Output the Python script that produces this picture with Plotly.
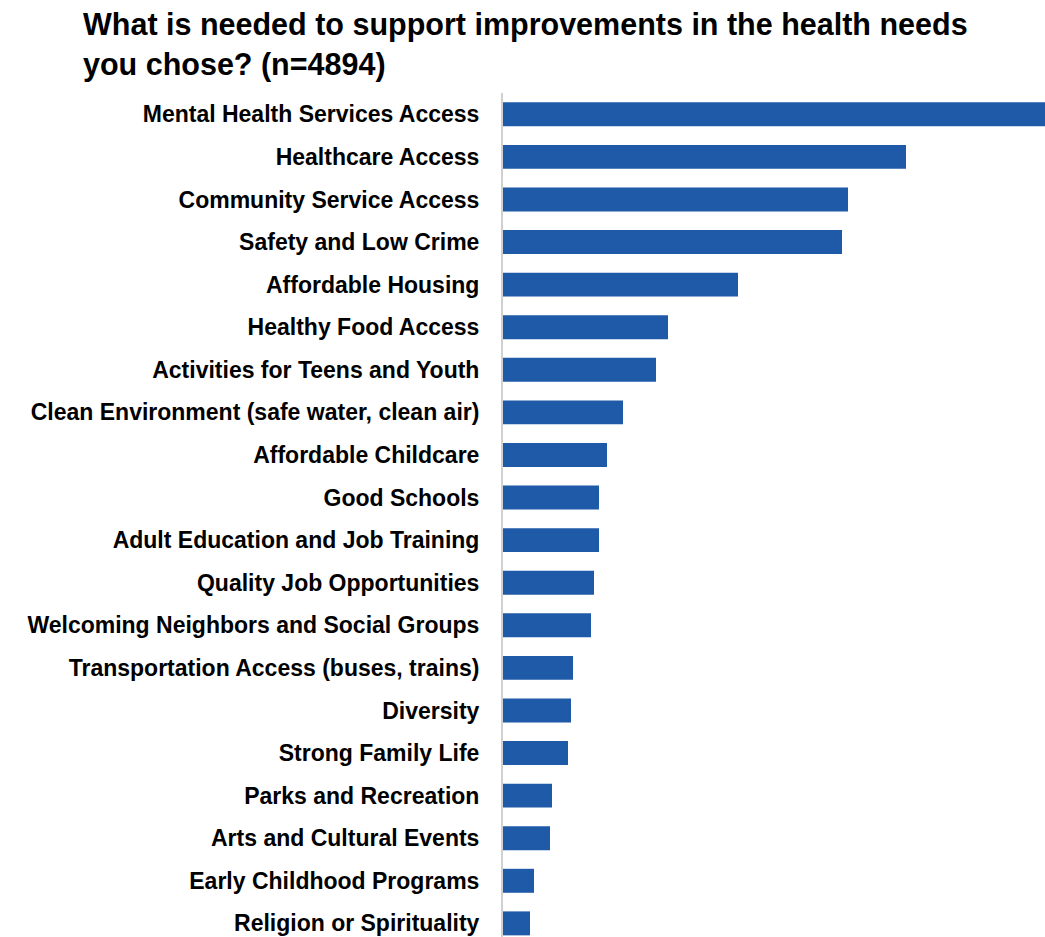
import plotly.graph_objects as go

categories = [
    "Mental Health Services Access",
    "Healthcare Access",
    "Community Service Access",
    "Safety and Low Crime",
    "Affordable Housing",
    "Healthy Food Access",
    "Activities for Teens and Youth",
    "Clean Environment (safe water, clean air)",
    "Affordable Childcare",
    "Good Schools",
    "Adult Education and Job Training",
    "Quality Job Opportunities",
    "Welcoming Neighbors and Social Groups",
    "Transportation Access (buses, trains)",
    "Diversity",
    "Strong Family Life",
    "Parks and Recreation",
    "Arts and Cultural Events",
    "Early Childhood Programs",
    "Religion or Spirituality",
]
values = [545, 403, 345, 339, 235, 165, 153, 120, 104, 96, 96, 91, 88, 70, 68, 65, 49, 47, 31, 27]

title_text = "What is needed to support improvements in the health needs<br>you chose? (n=4894)"

W, H = 1045, 937
fig = go.Figure(
    go.Bar(
        x=values,
        y=categories,
        orientation="h",
        marker=dict(color="#1F5AA8", line=dict(width=0)),
        hoverinfo="x+y",
    )
)

fig.update_layout(
    width=W,
    height=H,
    paper_bgcolor="white",
    plot_bgcolor="white",
    margin=dict(l=503, r=0, t=93, b=0),
    bargap=0.437,
    showlegend=False,
    title=dict(
        text=title_text,
        x=83 / W,
        xref="container",
        xanchor="left",
        y=1 - 35 / H,
        yref="container",
        yanchor="top",
        font=dict(family="Liberation Sans, Arial, sans-serif", size=30.5, color="#000000", weight="bold"),
    ),
    font=dict(family="Liberation Sans, Arial, sans-serif", color="#000000"),
)

fig.update_xaxes(
    range=[0, 542],
    visible=False,
    showgrid=False,
    zeroline=False,
)

fig.update_yaxes(
    type="category",
    range=[19.32, -0.5],
    showline=True,
    linecolor="#D0D0D0",
    linewidth=2,
    showgrid=False,
    ticks="",
    ticklabelstandoff=17,
    tickfont=dict(family="Liberation Sans, Arial, sans-serif", size=23, color="#000000", weight="bold"),
)

fig.write_html("out.html", config={"displayModeBar": False})

# remove default page margin so the figure sits at the window's top-left corner
with open("out.html", "r", encoding="utf-8") as f:
    html = f.read()
html = html.replace("<head>", "<head><style>html,body{margin:0;padding:0;overflow:hidden;}</style>", 1)
with open("out.html", "w", encoding="utf-8") as f:
    f.write(html)
